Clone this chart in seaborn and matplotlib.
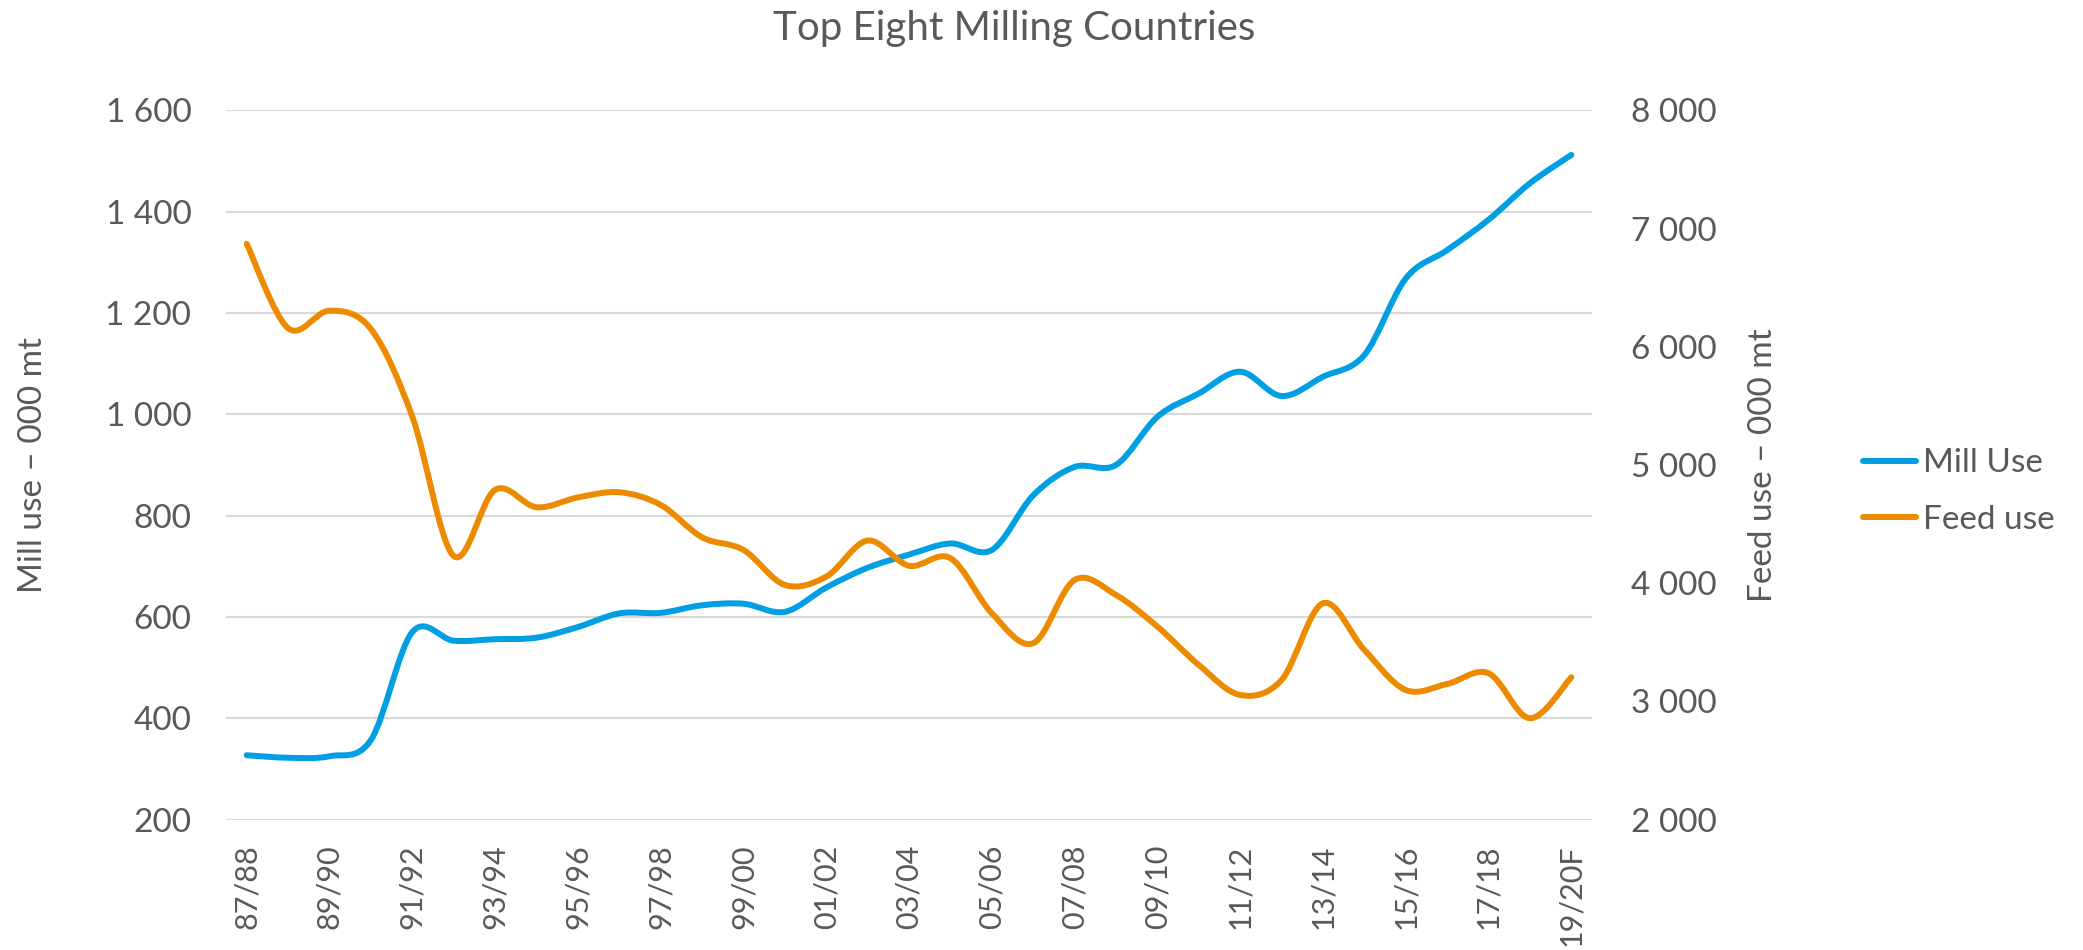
import numpy as np
import matplotlib
matplotlib.use("Agg")
import matplotlib.pyplot as plt
from matplotlib.path import Path
from matplotlib.patches import PathPatch
from matplotlib.lines import Line2D
from matplotlib.ticker import FuncFormatter
import seaborn as sns


seasons = ["87/88", "88/89", "89/90", "90/91", "91/92", "92/93", "93/94",
           "94/95", "95/96", "96/97", "97/98", "98/99", "99/00", "00/01",
           "01/02", "02/03", "03/04", "04/05", "05/06", "06/07", "07/08",
           "08/09", "09/10", "10/11", "11/12", "12/13", "13/14", "14/15",
           "15/16", "16/17", "17/18", "18/19", "19/20F"]

# mill use, left axis (000 mt)
mill_use = [327, 322, 325, 357, 570, 553, 556, 559, 580, 607, 608, 623, 626,
            610, 658, 697, 723, 745, 732, 840, 896, 900, 995, 1041, 1084,
            1036, 1074, 1117, 1268, 1324, 1384, 1456, 1512]

# feed use, right axis (000 mt)
feed_use = [6870, 6157, 6305, 6150, 5409, 4230, 4789, 4642, 4725, 4769, 4662,
            4388, 4281, 3985, 4055, 4360, 4147, 4211, 3745, 3492, 4027, 3900,
            3632, 3308, 3054, 3181, 3830, 3435, 3096, 3147, 3238, 2857, 3204]

BLUE = "#009FE3"
ORANGE = "#ED8B00"
GREY = "#595959"
GRID = "#D9D9D9"


def smooth_path(xs, ys):
    # excel style smoothed line: cubic bezier through every point
    pts = np.column_stack([xs, ys]).astype(float)
    n = len(pts)
    verts = [pts[0]]
    codes = [Path.MOVETO]
    for i in range(n - 1):
        p0 = pts[max(i - 1, 0)]
        p1 = pts[i]
        p2 = pts[i + 1]
        p3 = pts[min(i + 2, n - 1)]
        verts += [p1 + (p2 - p0) / 6, p2 - (p3 - p1) / 6, p2]
        codes += [Path.CURVE4] * 3
    return Path(verts, codes)


sns.set_theme(style="white")
plt.rcParams["font.family"] = ["Lato", "DejaVu Sans"]

fig = plt.figure(figsize=(20.83, 9.5), dpi=100)
ax = fig.add_axes([0.1085, 0.1373, 0.6558, 0.7466])
ax2 = ax.twinx()

x = np.arange(len(seasons))

ax.add_patch(PathPatch(smooth_path(x, mill_use), facecolor="none",
                       edgecolor=BLUE, lw=4.3, capstyle="round",
                       joinstyle="round", zorder=3))
ax2.add_patch(PathPatch(smooth_path(x, feed_use), facecolor="none",
                        edgecolor=ORANGE, lw=4.3, capstyle="round",
                        joinstyle="round", zorder=3))

ax.set_xlim(-0.5, len(seasons) - 0.5)
ax.set_ylim(200, 1600)
ax.set_yticks(range(200, 1601, 200))
ax2.set_ylim(2000, 8000)
ax2.set_yticks(range(2000, 8001, 1000))

fmt = FuncFormatter(lambda v, p: f"{int(v):,}".replace(",", " "))
ax.yaxis.set_major_formatter(fmt)
ax2.yaxis.set_major_formatter(fmt)

ax.set_xticks(x[::2])
ax.set_xticklabels(seasons[::2], rotation=90)

ax.yaxis.grid(True, color=GRID, linewidth=1.5)
ax.xaxis.grid(False)
ax.set_axisbelow(True)
sns.despine(ax=ax, left=True, bottom=True)
sns.despine(ax=ax2, left=True, bottom=True, right=True)

ax.tick_params(axis="y", length=0, labelsize=24, colors=GREY, pad=25)
ax.tick_params(axis="x", length=0, labelsize=22, colors=GREY, pad=18)
ax2.tick_params(axis="y", length=0, labelsize=24, colors=GREY, pad=28)

fig.text(0.487, 0.970, "Top Eight Milling Countries", ha="center",
         va="center", fontsize=29, color=GREY)
fig.text(0.0158, 0.5105, "Mill use \u2013 000 mt", rotation=90, ha="center",
         va="center", fontsize=24, color=GREY)
fig.text(0.8464, 0.5105, "Feed use \u2013 000 mt", rotation=90, ha="center",
         va="center", fontsize=24, color=GREY)

handles = [Line2D([], [], color=BLUE, lw=4.3, solid_capstyle="round"),
           Line2D([], [], color=ORANGE, lw=4.3, solid_capstyle="round")]
fig.legend(handles, ["Mill Use", "Feed use"], loc="center left",
           bbox_to_anchor=(0.8944, 0.4826), frameon=False, fontsize=24,
           handlelength=1.6, handletextpad=0.2, labelspacing=0.8,
           borderaxespad=0, borderpad=0, labelcolor=GREY)

fig.savefig("out.png", dpi=100)
